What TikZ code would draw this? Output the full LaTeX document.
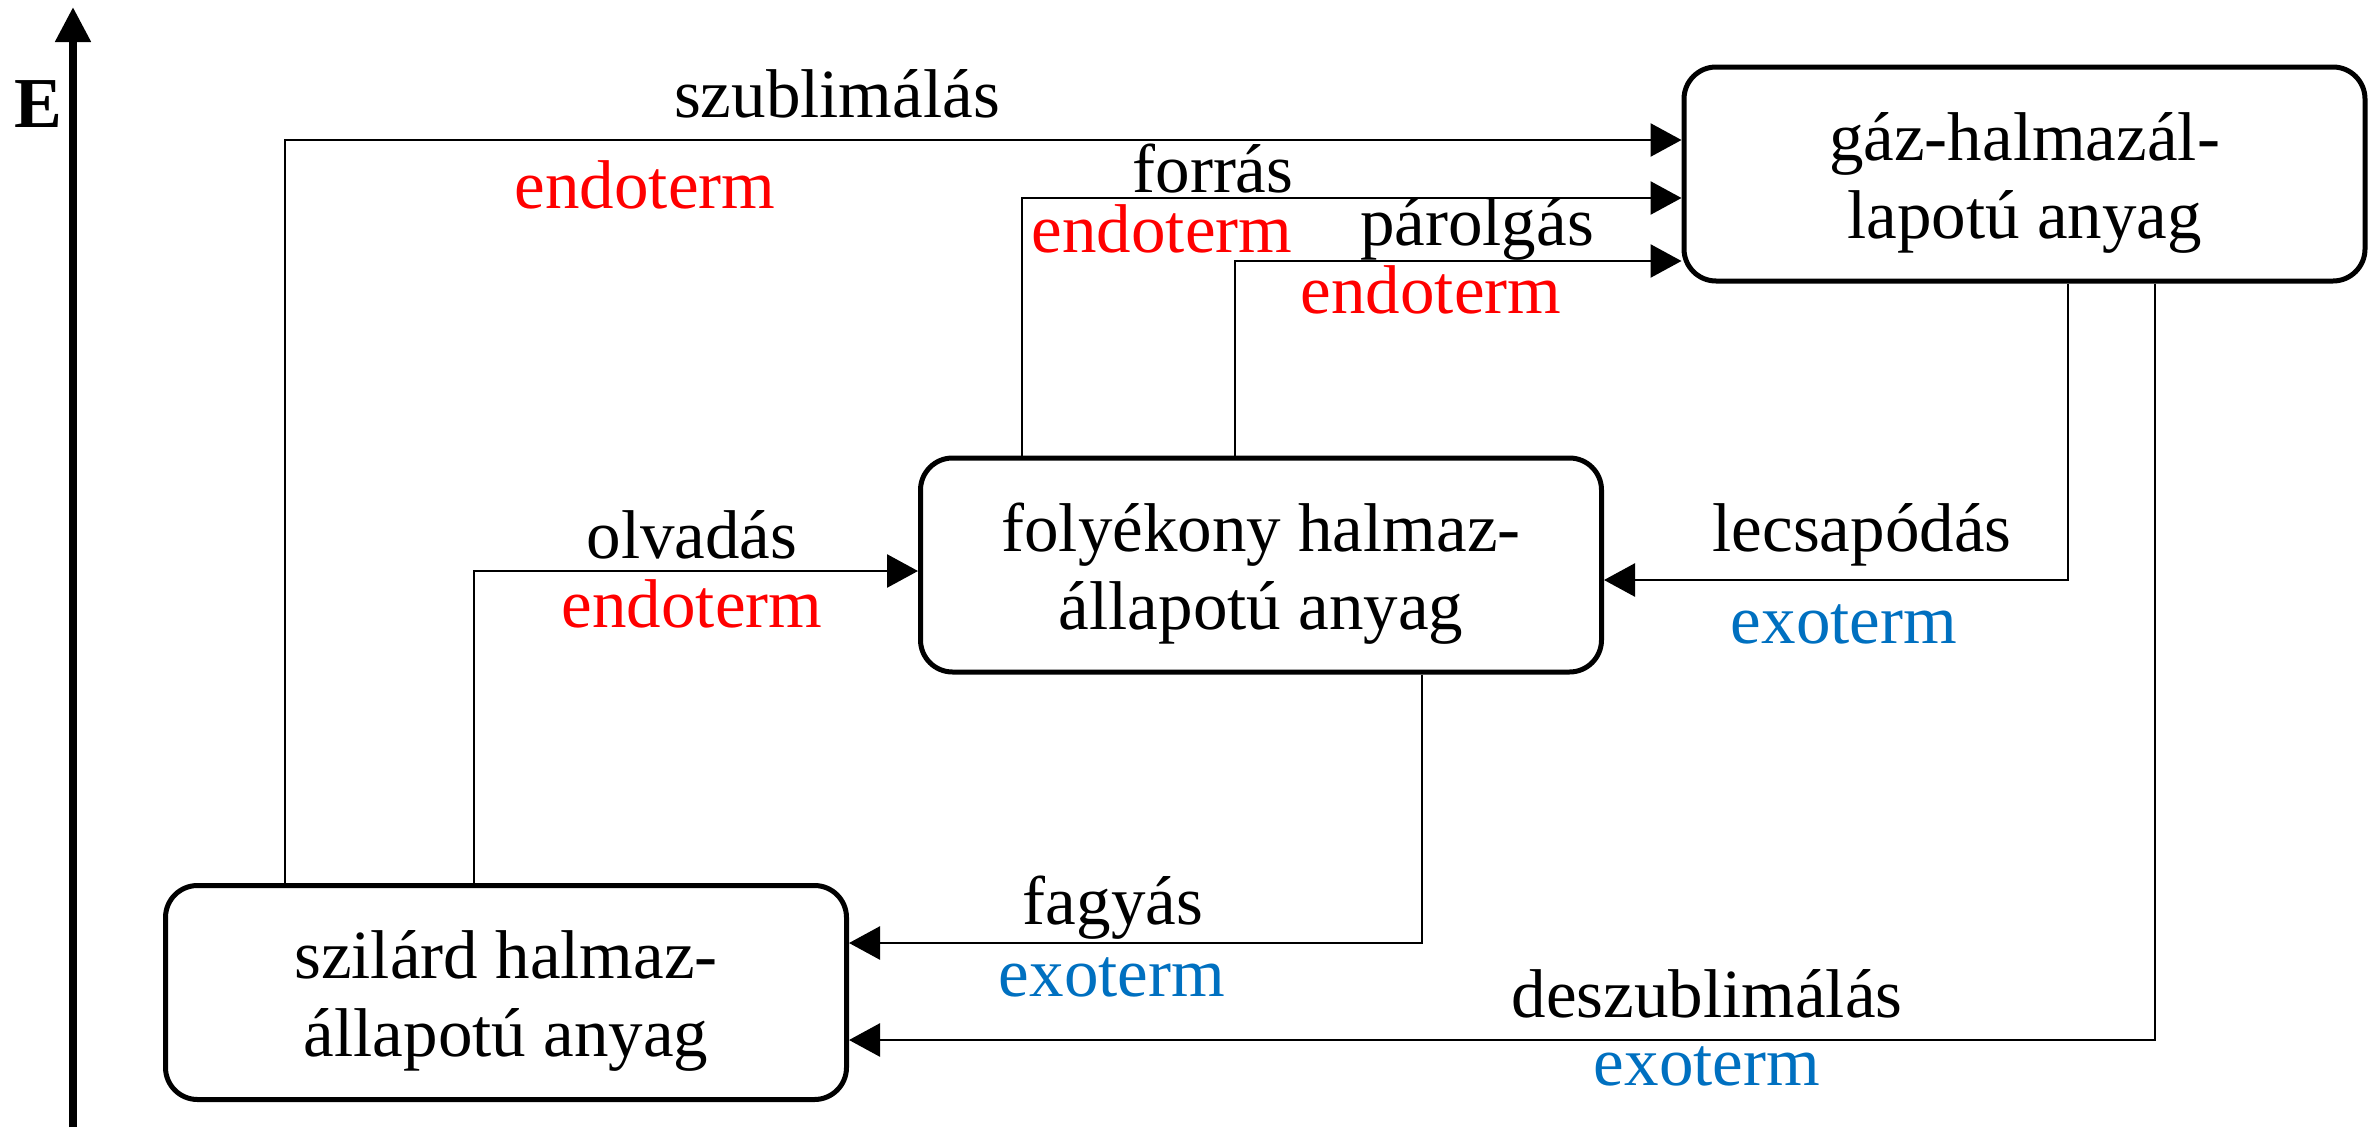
\documentclass[tikz,border=0pt]{standalone}
\usepackage{fontspec}
\setmainfont{Liberation Serif}
\usetikzlibrary{arrows.meta}

\definecolor{endored}{RGB}{255,0,0}
\definecolor{exoblue}{RGB}{0,112,192}

% taller first line, so the two lines sit a bit lower in the box
\newcommand{\lowtext}{\rule{0pt}{19.5pt}}

\tikzset{
    phase/.style={draw, line width=1.5pt, rounded corners=9.6pt, minimum width=204.3pt, minimum height=64.2pt, align=center, inner sep=0pt, font=\fontsize{20.7}{23.4}\selectfont},
    flow/.style={line width=0.8pt, -{Triangle[length=9.3pt, width=9.9pt]}},
    lbl/.style={anchor=base, inner sep=0pt, font=\fontsize{20.7}{23.4}\selectfont},
    endo/.style={lbl, text=endored},
    exo/.style={lbl, text=exoblue}
}

\begin{document}
\begin{tikzpicture}[x=0.3pt,y=0.3pt,yscale=-1,xscale=1]
    \useasboundingbox (0,0) rectangle (2379,1127);

    %Energy axis
    \coordinate (axbot) at (73,1127);
    \coordinate (axtop) at (73,7);
    \draw [line width=2.4pt, -{Triangle[length=10.5pt, width=10.2pt]}] (axbot) -- (axtop);
    \node (elabel) [lbl, font=\fontsize{21.5}{24}\selectfont\bfseries] at (38,127) {E};

    %Shape: Rounded Rectangle (states)
    \node (gas) [phase] at (2024.5,174) {\lowtext gáz-halmazál-\\lapotú anyag};
    \node (liquid) [phase] at (1261,565) {\lowtext folyékony halmaz-\\állapotú anyag};
    \node (solid) [phase] at (506,992.5) {\lowtext szilárd halmaz-\\állapotú anyag};

    %Connectors
    \draw [flow] (solid.north -| 285,0) |- (gas.west |- 0,140);
    \draw [flow] (liquid.north -| 1022,0) |- (gas.west |- 0,198);
    \draw [flow] (liquid.north -| 1235,0) |- (gas.west |- 0,261);
    \draw [flow] (solid.north -| 474,0) |- (liquid.west |- 0,571);
    \draw [flow] (gas.south -| 2068,0) |- (liquid.east |- 0,580);
    \draw [flow] (liquid.south -| 1422,0) |- (solid.east |- 0,943);
    \draw [flow] (gas.south -| 2155,0) |- (solid.east |- 0,1040);

    % Text Node
    \node (szub) [lbl] at (837,117) {szublimálás};
    \node (szubE) [endo] at (645,208) {endoterm};
    % Text Node
    \node (forr) [lbl] at (1213,192) {forrás};
    \node (forrE) [endo] at (1162,252) {endoterm};
    % Text Node
    \node (parol) [lbl] at (1477,245) {párolgás};
    \node (parolE) [endo] at (1431,313) {endoterm};
    % Text Node
    \node (olvad) [lbl] at (692,558) {olvadás};
    \node (olvadE) [endo] at (692,627) {endoterm};
    % Text Node
    \node (lecs) [lbl] at (1862,551) {lecsapódás};
    \node (lecsE) [exo] at (1844,643) {exoterm};
    % Text Node
    \node (fagy) [lbl] at (1113,924) {fagyás};
    \node (fagyE) [exo] at (1112,996) {exoterm};
    % Text Node
    \node (deszub) [lbl] at (1707,1017) {deszublimálás};
    \node (deszubE) [exo] at (1707,1085) {exoterm};

\end{tikzpicture}
\end{document}
